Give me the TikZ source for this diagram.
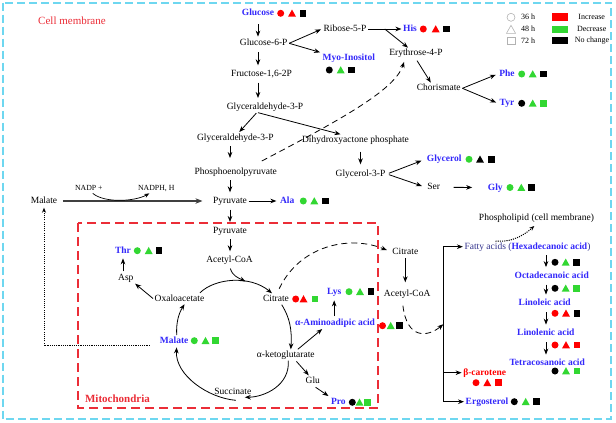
\documentclass[tikz,border=0pt]{standalone}
\usepackage{fontspec}
\setmainfont{Liberation Serif}
\usetikzlibrary{arrows.meta,calc}
\definecolor{mred}{RGB}{255,0,0}
\definecolor{mgreen}{RGB}{50,215,50}
\definecolor{mblk}{RGB}{0,0,0}
\definecolor{mblue}{RGB}{51,40,250}
\definecolor{navy}{RGB}{50,50,140}
\definecolor{cyanb}{RGB}{110,215,240}
\definecolor{mitored}{RGB}{235,45,55}
\newcommand\fsm{\fontsize{9.5}{11}\selectfont}
\newcommand\fsl{\fontsize{8}{9}\selectfont}
\newcommand\fsn{\fontsize{7.8}{9}\selectfont}
\newcommand\fsh{\fontsize{11}{13}\selectfont}
\newcommand\mkc[3]{\fill[#3] (#1,#2) circle (3.5pt);}
\newcommand\mkt[3]{\fill[#3] (#1-4,#2+3.4) -- (#1+4,#2+3.4) -- (#1,#2-3.8) -- cycle;}
\newcommand\mks[3]{\fill[#3] (#1-3.3,#2-3.3) rectangle (#1+3.3,#2+3.3);}
\newcommand\mkset[7]{\mkc{#1}{#4}{#5}\mkt{#2}{#4}{#6}\mks{#3}{#4}{#7}}
\begin{document}
\begin{tikzpicture}[x=1pt,y=-1pt,
 lbl/.style={inner sep=1.5pt,text height=6.5pt,text depth=1.5pt,font=\fsm},
 met/.style={lbl,font=\fsm\bfseries,text=mblue},
 arr/.style={line width=0.8pt,-{Stealth[length=6pt,width=4.6pt]}},
 vsh/.style={shorten <=3pt,shorten >=3pt},
 dsh/.style={arr,dash pattern=on 6pt off 4pt},
 dotarr/.style={line width=1pt,dash pattern=on 1.1pt off 1.1pt,-{Stealth[length=5pt,width=4pt]}}]
\useasboundingbox (0,0) rectangle (616,423);
% frames
\draw[cyanb,line width=2pt,dash pattern=on 8pt off 4pt] (2.5,2.5) rectangle (611,419);
\draw[mitored,line width=1.3pt,dash pattern=on 9pt off 5pt] (78,223) rectangle (378,408);
\node[font=\fsh,text=mitored,inner sep=1pt] (cm) at (72,21) {Cell membrane};
\node[font=\fsh\bfseries,text=mitored,inner sep=1pt] (mito) at (117.5,398.3) {Mitochondria};
% legend
\draw[gray!60,line width=0.6pt] (511,17.3) circle (4pt);
\draw[gray!60,line width=0.6pt] (506.5,33.3) -- (515.5,33.3) -- (511,25.3) -- cycle;
\draw[gray!60,line width=0.6pt] (507,37) rectangle (515,44.5);
\node[font=\fsl,inner sep=1pt] (l36) at (528,17) {36 h};
\node[font=\fsl,inner sep=1pt] (l48) at (528,29) {48 h};
\node[font=\fsl,inner sep=1pt] (l72) at (528,41) {72 h};
\fill[mred] (551.7,13.3) rectangle (567.7,20.7);
\fill[mgreen] (551.7,25.7) rectangle (567.7,32.7);
\fill[mblk] (551.7,36.9) rectangle (567.7,44.3);
\node[font=\fsl,inner sep=1pt] (linc) at (591.7,17) {Increase};
\node[font=\fsl,inner sep=1pt] (ldec) at (591.7,29) {Decrease};
\node[font=\fsl,inner sep=1pt] (lnc) at (592,41) {No change};
% nodes
\node[met] (glc) at (258,13.3) {Glucose};
\node[lbl] (g6p) at (263.7,43.3) {Glucose-6-P};
\node[lbl] (f16) at (261.5,74) {Fructose-1,6-2P};
\node[lbl] (ga3p1) at (265,106.7) {Glyceraldehyde-3-P};
\node[lbl] (r5p) at (345,29) {Ribose-5-P};
\node[met] (myo) at (348.8,58.3) {Myo-Inositol};
\node[met] (his) at (410,29) {His};
\node[lbl] (e4p) at (416,53.3) {Erythrose-4-P};
\node[lbl] (cho) at (438.8,88.3) {Chorismate};
\node[met] (phe) at (507,74) {Phe};
\node[met] (tyr) at (507,103.3) {Tyr};
\node[lbl] (ga3p2) at (235.3,137.7) {Glyceraldehyde-3-P};
\node[lbl] (dhap) at (355.5,140) {Dihydroxyactone phosphate};
\node[lbl] (g3p) at (360.5,174) {Glycerol-3-P};
\node[met] (glyc) at (444.2,159.3) {Glycerol};
\node[lbl] (ser) at (433.7,187.3) {Ser};
\node[met] (gly) at (495.3,187.5) {Gly};
\node[lbl] (pep) at (235.8,171.7) {Phosphoenolpyruvate};
\node[lbl] (pyr1) at (230,201) {Pyruvate};
\node[met] (ala) at (287.2,201) {Ala};
\node[lbl] (mal1) at (44,201) {Malate};
\node[lbl,font=\fsn] (nadp) at (88.8,187.7) {NADP +};
\node[lbl,font=\fsn] (nadph) at (156.3,187.7) {NADPH, H};
\node[lbl] (pyr2) at (230,230.7) {Pyruvate};
\node[lbl] (acoa1) at (229.5,260) {Acetyl-CoA};
\node[met] (thr) at (123,250.7) {Thr};
\node[lbl] (asp) at (125.8,278) {Asp};
\node[lbl] (oaa) at (179.5,298.5) {Oxaloacetate};
\node[lbl] (cit1) at (276,299) {Citrate};
\node[lbl] (akg) at (285.8,355) {α-ketoglutarate};
\node[met] (aad) at (335,322.7) {α-Aminoadipic acid};
\node[met] (lys) at (334.2,291.7) {Lys};
\node[lbl] (glu) at (312.8,381) {Glu};
\node[met] (pro) at (338.3,402.3) {Pro};
\node[lbl] (suc) at (232.8,391.6) {Succinate};
\node[met] (mal2) at (174.2,340.7) {Malate};
\node[lbl] (cit2) at (405.3,251.7) {Citrate};
\node[lbl] (acoa2) at (407.2,294) {Acetyl-CoA};
\node[lbl] (fa) at (527.5,246.7) {{\color{navy}Fatty acids (}{\bfseries\color{mblue}Hexadecanoic acid}{\color{navy})}};
\node[lbl] (pl) at (536.5,218.3) {Phospholipid (cell membrane)};
\node[met] (octa) at (551.7,275.8) {Octadecanoic acid};
\node[met] (linoleic) at (544.7,303.3) {Linoleic acid};
\node[met] (linolenic) at (545.8,333.3) {Linolenic acid};
\node[met] (tetra) at (547.2,363.3) {Tetracosanoic acid};
\node[met,text=mred] (bcar) at (484.7,372.7) {β-carotene};
\node[met] (erg) at (487,401.7) {Ergosterol};
% markers
\mkset{280.7}{292}{303}{13.3}{mred}{mred}{mblk}
\mkset{329.3}{340.7}{351.3}{70}{mblk}{mgreen}{mblk}
\mkset{423.3}{435.7}{446.7}{29}{mred}{mred}{mblk}
\mkset{521.7}{532.7}{543.3}{74}{mgreen}{mgreen}{mblk}
\mkset{521.7}{532.7}{543.3}{103.3}{mblk}{mgreen}{mgreen}
\mkset{469}{480}{491.7}{159.3}{mgreen}{mblk}{mblk}
\mkset{510}{521.3}{531.7}{187.5}{mgreen}{mgreen}{mblk}
\mkset{303.3}{314.3}{325.7}{201}{mgreen}{mgreen}{mblk}
\mkset{137.3}{148.7}{159}{250.7}{mgreen}{mgreen}{mblk}
\mkset{194.3}{205.5}{215.5}{340.7}{mgreen}{mgreen}{mgreen}
\mkset{295.7}{303.5}{315}{299}{mred}{mred}{mgreen}
\mkset{382.5}{390.7}{399.3}{325.7}{mred}{mgreen}{mblk}
\mkset{349}{360}{371}{291.7}{mgreen}{mgreen}{mblk}
\mkset{352.3}{359.5}{367.7}{402.3}{mblk}{mgreen}{mgreen}
\mkset{555}{565.7}{576.7}{262.3}{mblk}{mgreen}{mblk}
\mkset{555}{565.7}{576.7}{288.3}{mblk}{mgreen}{mgreen}
\mkset{555}{566}{577}{313.3}{mred}{mred}{mblk}
\mkset{555}{566}{577}{345}{mred}{mred}{mred}
\mkset{555}{566}{577}{371}{mblk}{mgreen}{mgreen}
\mkset{476}{487.3}{498.3}{382.7}{mred}{mred}{mred}
\mkset{514.3}{525.7}{536.7}{401.7}{mblk}{mgreen}{mblk}
% glycolysis
\draw[arr,shorten <=5pt,shorten >=1pt] (glc.south) -- (glc.south |- g6p.north);
\draw[arr,vsh] (g6p.south -| glc) -- (f16.north -| glc);
\draw[arr,vsh] (f16.south -| glc) -- (ga3p1.north -| glc);
\draw[arr,shorten >=1pt] (g6p.east) -- (r5p.west);
\draw[arr,shorten >=1pt] (g6p.east) -- (myo.north west);
\draw[arr] (r5p.east) -- (his.west);
\coordinate (br1) at ($(r5p.east)!0.5!(his.west)$);
\draw[arr] (br1) -- ([xshift=-8pt]e4p.north);
\draw[arr,shorten <=2pt] (e4p.south) -- ([xshift=-8pt]cho.north);
\draw[arr,shorten >=2pt] (cho.east) -- (phe.west);
\draw[arr,shorten >=2pt] (cho.east) -- (tyr.west);
\draw[arr,shorten <=1pt] ([xshift=-8pt]ga3p1.south) -- ([xshift=4pt]ga3p2.north);
\draw[arr,shorten <=1pt] ([xshift=-8pt]ga3p1.south) -- ([xshift=-15pt]dhap.north);
\draw[arr,shorten <=6pt,shorten >=4pt] (dhap.south -| g3p) -- (g3p.north);
\draw[arr,shorten <=2pt,shorten >=4pt] (g3p.east) -- (glyc.west);
\draw[arr,shorten <=2pt,shorten >=4pt] (g3p.east) -- (ser.west);
\draw[arr,shorten <=12pt,shorten >=14pt] (ser.east) -- (gly.west);
\draw[arr,shorten <=3pt,shorten >=8pt] (ga3p2.south -| pyr1) -- (pep.north -| pyr1);
\draw[arr,vsh] (pep.south -| pyr1) -- (pyr1.north);
\draw[arr,shorten >=2pt] (pyr1.east) -- (ala.west);
\draw[dsh,shorten >=3pt] ([xshift=26pt,yshift=5pt]pep.north) .. controls (340,120) and (395,90) .. ([xshift=-11pt]e4p.south);
% malate shunt
\draw[line width=1.4pt,black!75,shorten <=4pt,shorten >=9pt,-{Stealth[length=7pt,width=5.5pt]}] (mal1.east) -- (pyr1.west);
\draw[line width=0.7pt,-{Stealth[length=5pt,width=4pt]}] ([xshift=4pt]nadp.south) .. controls +(12,10) and +(-14,8) .. ([xshift=-7pt]nadph.south);
\draw[dotarr,shorten <=8.5pt,shorten >=1pt] ([yshift=-5pt]mal2.west) -| (mal1.south);
% mitochondria
\draw[arr,vsh] (pyr1.south) -- (pyr2.north);
\draw[arr,vsh] (pyr2.south -| pyr1) -- (acoa1.north -| pyr1);
\draw[arr,shorten <=1pt,shorten >=2pt] (asp.north -| thr) -- (thr.south);
\draw[arr] (oaa.west) -- (asp.south east);
\draw[arr] ([xshift=-6pt]oaa.north east) .. controls (215,278) and (250,275) .. coordinate[pos=0.65] (tcaj) ([xshift=-4pt]cit1.north);
\draw[arr,shorten <=3pt] (acoa1.south) .. controls +(3,10) and +(-8,-4) .. (tcaj);
\draw[arr] ([xshift=5.7pt]cit1.south) .. controls (290,318) and (292,330) .. ([xshift=5pt]akg.north);
\draw[arr,shorten >=1pt] ([xshift=12pt]akg.north) -- ([xshift=-12pt]aad.south);
\draw[arr,shorten <=1pt,shorten >=3pt] (aad.north -| lys) -- (lys.south);
\draw[arr,shorten <=1pt] ([xshift=10pt]akg.south) -- ([xshift=-4pt]glu.north);
\draw[arr,shorten <=1pt,shorten >=1pt] ([xshift=2pt]glu.south) -- (pro.north west);
\draw[arr] ([xshift=2.5pt]akg.south) .. controls (290,385) and (265,397) .. ([xshift=12pt]suc.south);
\draw[arr,shorten >=1pt] ([xshift=3pt,yshift=-3pt]suc.south) .. controls (208,398) and (175,375) .. ([xshift=2.5pt]mal2.south);
\draw[arr] ([xshift=2.5pt]mal2.north) .. controls (176,322) and (179,313) .. ([xshift=5pt]oaa.south);
\draw[dsh,shorten <=5pt,shorten >=4pt] ([xshift=1pt]cit1.north) .. controls (300,245) and (350,235) .. (cit2.west);
% cytosol lipid branch
\draw[arr,shorten <=1pt,shorten >=6pt] (cit2.south) -- (cit2.south |- acoa2.north);
\coordinate (bx) at (443.3,0);
\coordinate (bmid) at (443.3,324.3);
\draw[dsh,shorten <=6pt] ([xshift=-5pt]acoa2.south) .. controls (407,340) and (428,337) .. (bmid);
\draw[line width=0.8pt] (fa.west -| bx) -- (erg.west -| bx);
\draw[arr] (fa.west -| bx) -- (fa.west);
\draw[arr] (bcar.west -| bx) -- (bcar.west);
\draw[arr] (erg.west -| bx) -- (erg.west);
\draw[dotarr,shorten >=3pt] ([xshift=-32pt]fa.north) .. controls +(18,2) and +(-10,9) .. (pl.south);
\coordinate (fx) at (546,0);
\draw[arr,vsh] (fa.south -| fx) -- (octa.north -| fx);
\draw[arr,vsh] (octa.south -| fx) -- (linoleic.north -| fx);
\draw[arr,vsh] (linoleic.south -| fx) -- (linolenic.north -| fx);
\draw[arr,vsh] (linolenic.south -| fx) -- (tetra.north -| fx);
\end{tikzpicture}
\end{document}
